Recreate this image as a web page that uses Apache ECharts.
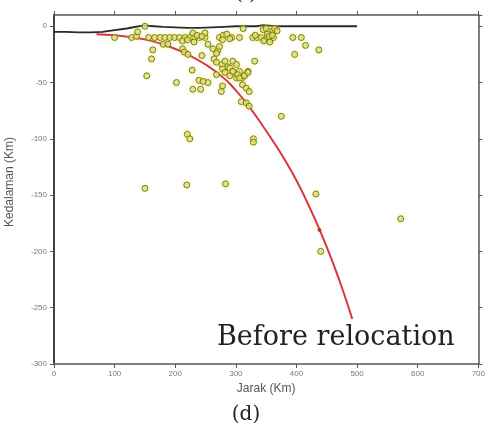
<!DOCTYPE html>
<html>
<head>
<meta charset="utf-8">
<script src="https://cdn.jsdelivr.net/npm/echarts@6/dist/echarts.min.js"></script>
<style>
  html, body { margin: 0; padding: 0; background: #fff; }
  #chart { width: 488px; height: 428px; }
</style>
</head>
<body>
<div id="chart"></div>
<script>
// hypocentres [jarak km, kedalaman km]
var quakes = [
  [100,-10],[128,-10],[136,-9],[138,-5],[150,0],
  [156,-10],[166,-10],[175,-10],[183,-10],[191,-10],[199,-10],[207,-10],[216,-10],[224,-10],[232,-10],[240,-10],[249,-10],
  [229,-6],[249,-6],[236,-8],[244,-9],[212,-13],[220,-12],
  [180,-16],[188,-16],[163,-21],[161,-29],[153,-44],
  [212,-20],[215,-23],[221,-25],[231,-14],[244,-26],[254,-16],[262,-20],[270,-22],[273,-18],[264,-29],[268,-24],
  [228,-39],[202,-50],[239,-48],[229,-56],[242,-56],[254,-50],[246,-49],
  [273,-10],[279,-8],[285,-7],[293,-10],[306,-10],[278,-12],[290,-11],[312,-2],
  [268,-32],[277,-34],[282,-31],[287,-36],[278,-38],[290,-37],
  [295,-31],[301,-34],[306,-40],[295,-41],[301,-46],[310,-46],[320,-40],[315,-43],
  [268,-43],[282,-41],[290,-44],[295,-40],[303,-43],[306,-46],[314,-44],[320,-41],
  [276,-58],[278,-53],[311,-52],[317,-55],[322,-58],[309,-67],[317,-68],[322,-71],
  [331,-31],
  [328,-10],[335,-10],[342,-10],[348,-12],[352,-10],[357,-11],[362,-10],[345,-3],[350,-2],[356,-5],
  [358,-7],[362,-4],[364,-2],[352,-7],[355,-9],[360,-8],[368,-4],[346,-13],[356,-14],[332,-8],
  [375,-80],[394,-10],[408,-10],[397,-25],[415,-17],[437,-21],
  [220,-96],[224,-100],[329,-100],[329,-103],
  [150,-144],[219,-141],[283,-140],
  [432,-149],[440,-200],[572,-171]
];

// topography line
var surfaceLine = [
  [0,-5],[20,-5],[40,-5.5],[60,-5.5],[80,-5],[100,-3.5],[120,-2],[140,0],[150,0.5],[165,0],
  [180,-0.5],[200,-1],[220,-1.5],[240,-1.5],[260,-1],[280,-0.5],[300,0],[320,0],[335,0],
  [345,1],[355,0.5],[365,0],[400,0],[450,0],[500,0]
];

// slab geometry
var slabLine = [
  [70,-7],[100,-8],[130,-10],[160,-13],[190,-18],[220,-25],[250,-34],[280,-46],[300,-57],
  [320,-70],[340,-85],[360,-101],[380,-118],[400,-137],[420,-159],[440,-183],[460,-210],
  [480,-240],[492,-260]
];
var slabMarker = [[438,-181]];

var chart = echarts.init(document.getElementById('chart'));

var tickLabel = { fontFamily: 'Liberation Sans', fontSize: 8, color: '#777' };
var frameLine = { show: true, onZero: false, lineStyle: { color: '#555', width: 1.5 } };
var outTick = { show: true, length: 4, lineStyle: { color: '#555' } };

chart.setOption({
  animation: false,
  grid: { left: 54, right: 9, top: 15, bottom: 64 },
  xAxis: [
    {
      type: 'value', min: 0, max: 700, interval: 100, position: 'bottom',
      name: 'Jarak (Km)', nameLocation: 'middle', nameGap: 19,
      nameTextStyle: { fontFamily: 'Liberation Sans', fontSize: 12, color: '#555' },
      axisLine: frameLine,
      axisTick: outTick,
      axisLabel: Object.assign({ margin: 6 }, tickLabel),
      splitLine: { show: false }
    },
    {
      type: 'value', min: 0, max: 700, interval: 100, position: 'top',
      axisLine: frameLine,
      axisTick: outTick,
      axisLabel: { show: false },
      splitLine: { show: false }
    }
  ],
  yAxis: [
    {
      type: 'value', min: -300, max: 10, interval: 50, position: 'left',
      axisLine: { show: true, onZero: false, lineStyle: { color: '#444', width: 2 } },
      axisTick: outTick,
      axisLabel: Object.assign({ margin: 7, showMaxLabel: false }, tickLabel),
      splitLine: { show: false }
    },
    {
      type: 'value', min: -300, max: 10, interval: 50, position: 'right',
      axisLine: frameLine,
      axisTick: outTick,
      axisLabel: { show: false },
      splitLine: { show: false }
    }
  ],
  graphic: [
    {
      type: 'text', left: 4, top: 137, rotation: Math.PI / 2,
      style: { text: 'Kedalaman (Km)', fontFamily: 'Liberation Sans', fontSize: 12, fill: '#555' }
    },
    {
      type: 'text', x: 217, y: 338,
      style: { text: 'Before relocation', fontFamily: 'DejaVu Serif', fontSize: 27, fill: '#222',
               textAlign: 'left', textVerticalAlign: 'middle' }
    },
    {
      type: 'text', x: 246, y: 415,
      style: { text: '(d)', fontFamily: 'DejaVu Serif', fontSize: 20, fill: '#222',
               textAlign: 'center', textVerticalAlign: 'middle' }
    },
    {
      type: 'text', x: 246, y: -6,
      style: { text: '( )', fontFamily: 'DejaVu Serif', fontSize: 20, fill: '#222',
               textAlign: 'center', textVerticalAlign: 'middle' }
    }
  ],
  series: [
    {
      name: 'surface', type: 'line', data: surfaceLine, showSymbol: false, z: 2,
      lineStyle: { color: '#2a2a2a', width: 1.8 }
    },
    {
      name: 'slab', type: 'line', data: slabLine, smooth: true, showSymbol: false, z: 3,
      lineStyle: { color: '#d8383c', width: 2 }
    },
    {
      name: 'slabMarker', type: 'scatter', data: slabMarker, symbolSize: 4, z: 4,
      itemStyle: { color: '#b82020' }
    },
    {
      name: 'quakes', type: 'scatter', data: quakes, symbolSize: 6, z: 5,
      itemStyle: { color: '#dede6a', borderColor: '#5e5e10', borderWidth: 1,
                   shadowBlur: 4, shadowColor: 'rgba(235,235,90,0.5)' }
    }
  ]
});
</script>
</body>
</html>
